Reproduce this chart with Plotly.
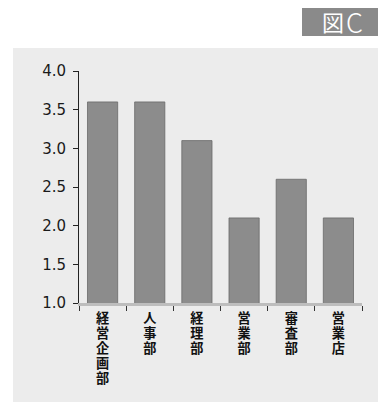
import plotly.graph_objects as go

# Departments and their scores
departments = ["経営企画部", "人事部", "経理部", "営業部", "審査部", "営業店"]
scores = [3.6, 3.6, 3.1, 2.1, 2.6, 2.1]
y_ticks = [1.0, 1.5, 2.0, 2.5, 3.0, 3.5, 4.0]
y_tick_text = ["1.0", "1.5", "2.0", "2.5", "3.0", "3.5", "4.0"]
figure_label = "図"
figure_letter = "C"

# Stack the characters of each name vertically; the base font size sets
# the line pitch, the inner span sets the glyph size.
GLYPH_PX = 13.2
vertical_labels = [
    "<br>".join(f"<span style='font-size:{GLYPH_PX}px'>{ch}</span>" for ch in name)
    for name in departments
]

W, H = 378, 404
ML, MR, MT, MB = 79, 16, 71, 101
PW, PH = W - ML - MR, H - MT - MB


def px_x(x):
    return (x - ML) / PW


def px_y(y):
    return (H - MB - y) / PH


fig = go.Figure(
    go.Bar(
        x=departments,
        y=scores,
        marker=dict(color="#8c8c8c", line=dict(color="#6a6a6a", width=0.8)),
        width=0.64,
        hoverinfo="skip",
    )
)

fig.update_layout(
    width=W,
    height=H,
    margin=dict(l=ML, r=MR, t=MT, b=MB),
    paper_bgcolor="white",
    plot_bgcolor="rgba(0,0,0,0)",
    showlegend=False,
    shapes=[
        # light grey panel behind the chart
        dict(type="rect", xref="paper", yref="paper",
             x0=px_x(13), x1=px_x(378), y0=px_y(402), y1=px_y(48),
             fillcolor="#ececec", line=dict(width=0), layer="below"),
        # dark label box
        dict(type="rect", xref="paper", yref="paper",
             x0=px_x(302), x1=px_x(378), y0=px_y(36), y1=px_y(8),
             fillcolor="#8a8a8a", line=dict(width=0), layer="below"),
    ],
    annotations=[
        dict(text=figure_label, xref="paper", yref="paper",
             x=px_x(333), y=px_y(21.5), xanchor="center", yanchor="middle",
             showarrow=False,
             font=dict(family="Noto Sans CJK JP", size=22, color="white")),
        dict(text=figure_letter, xref="paper", yref="paper",
             x=px_x(354), y=px_y(21.5), xanchor="center", yanchor="middle",
             showarrow=False,
             font=dict(family="Noto Sans CJK JP", size=27, color="white",
                       weight=300)),
    ],
)

fig.update_xaxes(
    tickmode="array",
    tickvals=departments,
    ticktext=vertical_labels,
    tickangle=0,
    showline=True,
    linecolor="#bdbdbd",
    linewidth=3,
    ticks="outside",
    tickson="boundaries",
    ticklen=5,
    tickcolor="#333333",
    tickwidth=1,
    showgrid=False,
    ticklabelstandoff=3,
    tickfont=dict(family="DejaVu Sans, Noto Sans CJK JP", size=11.5,
                  color="#111111", weight="bold"),
    fixedrange=True,
)

fig.update_yaxes(
    range=[1.0, 4.0],
    tickmode="array",
    tickvals=y_ticks,
    ticktext=y_tick_text,
    showline=True,
    linecolor="#222222",
    linewidth=1,
    ticks="outside",
    ticklen=5,
    tickcolor="#222222",
    showgrid=False,
    zeroline=False,
    ticklabelstandoff=4,
    tickfont=dict(family="DejaVu Sans", size=15, color="#1a1a1a"),
    fixedrange=True,
)

fig.write_html("out.html", config={"displayModeBar": False})
